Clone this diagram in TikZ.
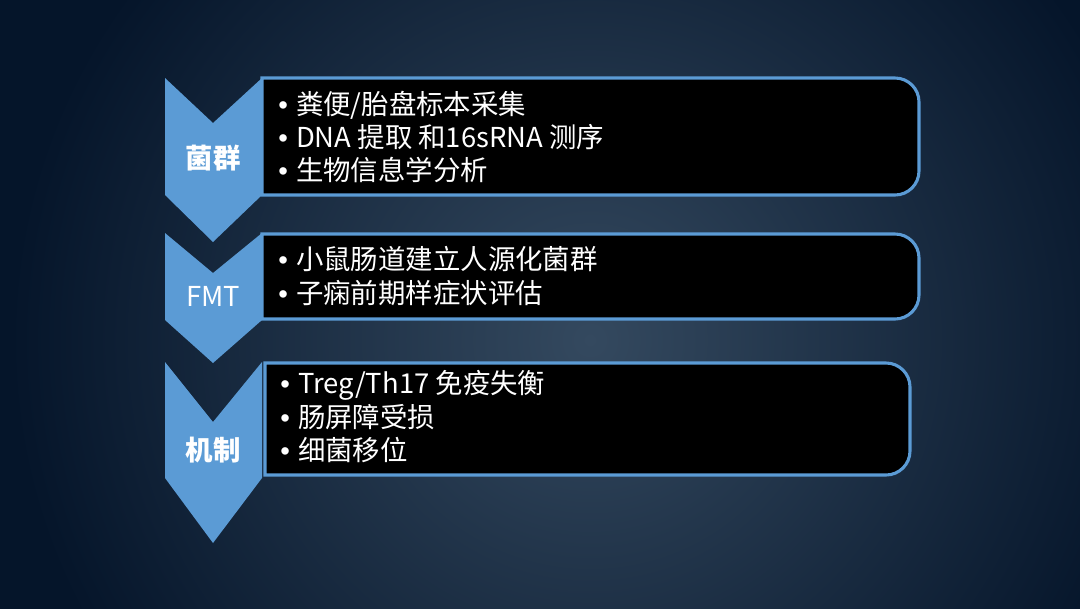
\documentclass[tikz,border=0pt]{standalone}
\usepackage{fontspec}
\setmainfont{Noto Sans CJK SC}
\newfontfamily\bulletfont{Liberation Sans}
\usepackage{xcolor}
\definecolor{bgdark}{HTML}{05152A}
\definecolor{bglight}{HTML}{34495F}
\definecolor{chevblue}{HTML}{5B9BD5}
\newcommand\itemdot{{\bulletfont •}\hspace{0.3em}}
\tikzset{
  chev/.style={fill=chevblue},
  itembox/.style={draw=chevblue, line width=2.2pt, fill=black},
  items/.style={text=white, align=left, anchor=west, inner sep=0pt,
    font=\fontsize{19.5pt}{23.8pt}\selectfont},
  steplabel/.style={text=white, inner sep=0pt, font=\fontsize{19.5pt}{22pt}\selectfont}
}
\begin{document}
\begin{tikzpicture}[x=0.025cm, y=-0.025cm]
		\useasboundingbox (0,0) rectangle (1080,608);
		\fill[bgdark](-10,-10) rectangle (1090,618);
		\shade[inner color=bglight, outer color=bgdark](590,340) circle (580);
		\fill[chev](165,78)--(213,123)--(262,78)--(262,195)--(213,242)--(165,195)--cycle;
		\fill[chev](165,233)--(213,273)--(262,233)--(262,320)--(213,363)--(165,320)--cycle;
		\fill[chev](165,362)--(213,422)--(262,362)--(262,478)--(213,543)--(165,478)--cycle;
		\draw[itembox](600,78)[rounded corners=0.6cm]--(919,78)--(919,195)--(600,195)[sharp corners]--(262,195)--(262,78)--cycle;
		\draw[itembox](600,234)[rounded corners=0.6cm]--(919,234)--(919,319)--(600,319)[sharp corners]--(262,319)--(262,234)--cycle;
		\draw[itembox](600,363)[rounded corners=0.6cm]--(910,363)--(910,475)--(600,475)[sharp corners]--(265,475)--(265,363)--cycle;
		\node[steplabel, font=\fontsize{19.5pt}{22pt}\selectfont\bfseries](microbe) at(213,158){菌群};
		\node[steplabel](fmt) at(213,296){FMT};
		\node[steplabel, font=\fontsize{19.5pt}{22pt}\selectfont\bfseries](mech) at(213,450){机制};
		\node[items](microbeitems) at(278,137){\itemdot 粪便/胎盘标本采集\\\itemdot DNA 提取\ 和16sRNA 测序\\\itemdot 生物信息学分析};
		\node[items](fmtitems) at(278,276){\itemdot 小鼠肠道建立人源化菌群\\\itemdot 子痫前期样症状评估};
		\node[items](mechitems) at(280,417){\itemdot Treg/Th17 免疫失衡\\\itemdot 肠屏障受损\\\itemdot 细菌移位};
		\end{tikzpicture}
\end{document}
